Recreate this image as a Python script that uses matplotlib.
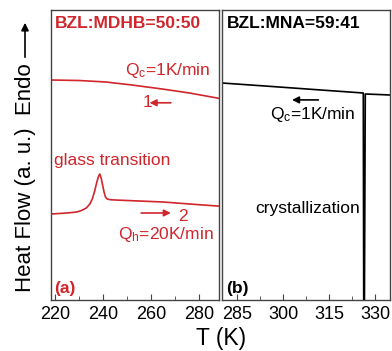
import matplotlib.pyplot as plt
from matplotlib.ticker import MultipleLocator

plt.rcParams['font.family'] = ['Liberation Sans', 'DejaVu Sans']
plt.rcParams['mathtext.fontset'] = 'custom'
plt.rcParams['mathtext.rm'] = 'Liberation Sans'
plt.rcParams['mathtext.it'] = 'Liberation Sans:italic'

RED = '#d0262c'
SPINE = '#444444'

# (a) BZL:MDHB = 50:50, arbitrary heat flow units
cool_T = [218.3, 230, 241.2, 252, 264.6, 276, 287.5, 288.5]
cool_q = [220, 219.5, 218, 215, 211, 207, 202, 201.5]

heat_T = [218.3, 225, 229, 231, 233, 234.5, 235.5, 236.5, 237.3, 238, 238.6,
          239.2, 239.8, 240.4, 241, 241.7, 243, 245, 255, 265, 276, 287.5, 288.5]
heat_q = [86, 87, 88, 89.5, 92, 96, 101, 109, 117, 123, 126,
          122, 115, 108, 103, 101, 100.3, 100, 99, 98, 96, 94, 93.8]

# (b) BZL:MNA = 59:41
cryst_T = [280.1, 295, 310, 326.1, 326.25, 326.45, 326.75, 331, 334.8]
cryst_q = [217, 213.8, 210.5, 207, -20, -20, 206, 205.5, 205]

fig = plt.figure(figsize=(3.92, 3.51), dpi=100)
axa = fig.add_axes([51 / 392, 51 / 351, 168 / 392, 290 / 351])
axb = fig.add_axes([222 / 392, 51 / 351, 168 / 392, 290 / 351])

for ax in (axa, axb):
    for s in ax.spines.values():
        s.set_color(SPINE)
        s.set_linewidth(1.0)
    ax.set_ylim(0, 290)
    ax.set_yticks([])
    ax.tick_params(axis='x', which='both', direction='in', labelsize=13,
                   pad=4, color=SPINE)
    ax.tick_params(axis='x', which='major', length=4)
    ax.tick_params(axis='x', which='minor', length=3)

axa.plot(cool_T, cool_q, color=RED, lw=1.2)
axa.plot(heat_T, heat_q, color=RED, lw=1.2)
axa.set_xlim(218.3, 288.3)
axa.xaxis.set_major_locator(MultipleLocator(20))
axa.xaxis.set_minor_locator(MultipleLocator(10))

axb.plot(cryst_T, cryst_q, color='black', lw=1.2)
axb.set_xlim(280.1, 334.8)
axb.set_xticks([285, 300, 315, 330])
axb.xaxis.set_minor_locator(MultipleLocator(7.5))

# panel (a) texts
axa.text(0.024, 0.955, 'BZL:MDHB=50:50', transform=axa.transAxes, color=RED,
         fontsize=12.5, fontweight='bold', va='center')
axa.text(0.44, 0.79, r'Q$_\mathrm{c}$=1K/min', transform=axa.transAxes,
         color=RED, fontsize=12.5, va='center')
axa.text(0.545, 0.68, '1', transform=axa.transAxes, color=RED,
         fontsize=12.5, va='center')
axa.annotate('', xy=(0.57, 0.68), xytext=(0.73, 0.68), xycoords='axes fraction',
             arrowprops=dict(arrowstyle='-|>', color=RED, lw=1.2,
                             mutation_scale=10))
axa.text(0.02, 0.48, 'glass transition', transform=axa.transAxes, color=RED,
         fontsize=12.5, va='center')
axa.annotate('', xy=(0.73, 0.30), xytext=(0.52, 0.30), xycoords='axes fraction',
             arrowprops=dict(arrowstyle='-|>', color=RED, lw=1.2,
                             mutation_scale=10))
axa.text(0.755, 0.287, '2', transform=axa.transAxes, color=RED,
         fontsize=12.5, va='center')
axa.text(0.40, 0.225, r'Q$_\mathrm{h}$=20K/min', transform=axa.transAxes,
         color=RED, fontsize=12.5, va='center')
axa.text(0.02, 0.04, '(a)', transform=axa.transAxes, color=RED,
         fontsize=12.5, fontweight='bold', va='center')

# panel (b) texts
axb.text(0.03, 0.955, 'BZL:MNA=59:41', transform=axb.transAxes, color='black',
         fontsize=12.5, fontweight='bold', va='center')
axb.annotate('', xy=(0.40, 0.69), xytext=(0.59, 0.69), xycoords='axes fraction',
             arrowprops=dict(arrowstyle='-|>', color='black', lw=1.2,
                             mutation_scale=10))
axb.text(0.285, 0.64, r'Q$_\mathrm{c}$=1K/min', transform=axb.transAxes,
         color='black', fontsize=12.5, va='center')
axb.text(0.196, 0.315, 'crystallization', transform=axb.transAxes,
         color='black', fontsize=12.5, va='center')
axb.text(0.025, 0.04, '(b)', transform=axb.transAxes, color='black',
         fontsize=12.5, fontweight='bold', va='center')

# shared labels
fig.text(0.064, 0.493, 'Heat Flow (a. u.)  Endo', rotation=90, fontsize=16,
         ha='center', va='center')
axa.annotate('', xy=(25 / 392, 1 - 20 / 351), xytext=(25 / 392, 1 - 60 / 351),
             xycoords='figure fraction', annotation_clip=False,
             arrowprops=dict(arrowstyle='-|>', color='black', lw=1.2,
                             mutation_scale=11))
fig.text(221 / 392, 0.037, 'T (K)', fontsize=16.5, ha='center', va='center')

fig.savefig('out.png', dpi=100)
